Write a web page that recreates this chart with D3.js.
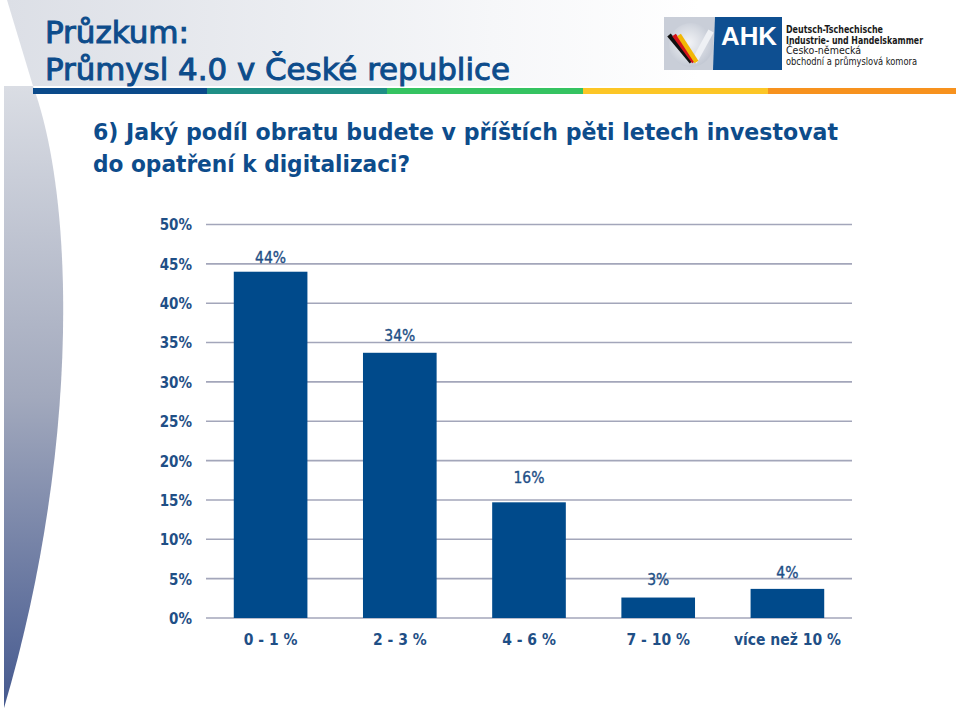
<!DOCTYPE html>
<html><head><meta charset="utf-8">
<script src="https://cdn.jsdelivr.net/npm/d3@7"></script>
<style>html,body{margin:0;padding:0;background:#fff;}svg{display:block;}</style>
</head><body>
<script>
const categories = ["0 - 1 %", "2 - 3 %", "4 - 6 %", "7 - 10 %", "více než 10 %"];
const barValues = [44, 33.7, 14.7, 2.6, 3.7];
const labelValues = [44, 34, 16, 3, 4];
const yTicks = [0, 5, 10, 15, 20, 25, 30, 35, 40, 45, 50];
const titleLines = ["Průzkum:", "Průmysl 4.0 v České republice"];
const questionLines = ["6) Jaký podíl obratu budete v příštích pěti letech investovat", "do opatření k digitalizaci?"];
const logoLines = ["Deutsch-Tschechische", "Industrie- und Handelskammer", "Česko-německá", "obchodní a průmyslová komora"];
const stripeColors = ["#0b4a8a", "#1f8f86", "#35c361", "#fcc626", "#f7921e"];
const stripeStops = [33, 207, 387, 583, 768, 956];

const W = 960, H = 711;
const svg = d3.select("body").append("svg").attr("width", W).attr("height", H);
const defs = svg.append("defs");

const hg = defs.append("linearGradient").attr("id", "hg").attr("x1", "0").attr("x2", "1").attr("y1", "0").attr("y2", "0");
hg.append("stop").attr("offset", "0").attr("stop-color", "#dcdfe6");
hg.append("stop").attr("offset", "0.7").attr("stop-color", "#f6f7f9");
hg.append("stop").attr("offset", "1").attr("stop-color", "#ffffff");
const lg = defs.append("linearGradient").attr("id", "lg").attr("x1", "0").attr("x2", "0").attr("y1", "0").attr("y2", "1");
lg.append("stop").attr("offset", "0").attr("stop-color", "#dadde4");
lg.append("stop").attr("offset", "0.5").attr("stop-color", "#a2a9bd");
lg.append("stop").attr("offset", "1").attr("stop-color", "#45598f");
const cg = defs.append("radialGradient").attr("id", "cg").attr("cx", "0.45").attr("cy", "0.45").attr("r", "0.6");
cg.append("stop").attr("offset", "0").attr("stop-color", "#f2f3f6");
cg.append("stop").attr("offset", "0.6").attr("stop-color", "#d5d9e1");
cg.append("stop").attr("offset", "1").attr("stop-color", "#bfc5d1");

// header background
svg.append("path").attr("d", "M7,0 L700,0 L700,86 L33,86 Z").attr("fill", "url(#hg)");
// left curved decoration
svg.append("path").attr("d", "M4,86 L33,86 C75,200 80,450 4,708 Z").attr("fill", "url(#lg)");

// stripes
stripeColors.forEach((c, i) => {
  svg.append("rect").attr("x", stripeStops[i]).attr("y", 88).attr("width", stripeStops[i + 1] - stripeStops[i]).attr("height", 6).attr("fill", c);
});

const blue = "#0d4c8b";
const FONT = "'DejaVu Sans Condensed', 'DejaVu Sans', sans-serif";
// title
const tt = svg.append("g").attr("font-family", FONT).attr("fill", blue).attr("font-size", 30)
  .attr("stroke", blue).attr("stroke-width", 0.9);
tt.append("text").attr("x", 45).attr("y", 43).text(titleLines[0]).attr("textLength", 144).attr("lengthAdjust", "spacingAndGlyphs");
tt.append("text").attr("x", 45).attr("y", 80).text(titleLines[1]).attr("textLength", 465).attr("lengthAdjust", "spacingAndGlyphs");

// question
const qq = svg.append("g").attr("font-family", FONT).attr("fill", blue).attr("font-size", 23).attr("font-weight", "bold");
qq.append("text").attr("x", 93).attr("y", 140).text(questionLines[0]).attr("textLength", 745).attr("lengthAdjust", "spacingAndGlyphs");
qq.append("text").attr("x", 93).attr("y", 172).text(questionLines[1]).attr("textLength", 317).attr("lengthAdjust", "spacingAndGlyphs");

// logo
const logo = svg.append("g");
logo.append("rect").attr("x", 664).attr("y", 17).attr("width", 54).attr("height", 53).attr("fill", "#c9ced8");
logo.append("circle").attr("cx", 691).attr("cy", 45).attr("r", 22).attr("fill", "url(#cg)");
logo.append("path").attr("d", "M715,17 L782,17 L782,70 L713,70 Z").attr("fill", "#0e4f91");
logo.append("text").attr("x", 721).attr("y", 45).attr("fill", "#fff").attr("font-family", "'Liberation Sans', Arial, sans-serif").attr("font-weight", "bold").attr("font-size", 25).attr("textLength", 56).attr("lengthAdjust", "spacingAndGlyphs").text("AHK");
logo.append("path").attr("d", "M694,62 L711,31").attr("stroke", "#eef0f4").attr("stroke-width", 6).attr("fill", "none");
[["#111", -5], ["#d4141c", 0], ["#f2b705", 5]].forEach(([c, o]) => {
  logo.append("path").attr("d", `M${674 + o},${35} L${694 + o * 0.5},${62}`).attr("stroke", c).attr("stroke-width", 4.5).attr("fill", "none");
});
const logoWidths = [97, 137, 75, 131];
const lt = svg.append("g").attr("font-family", FONT).attr("font-size", 10.5).attr("fill", "#1a1a1a");
logoLines.forEach((s, i) => {
  lt.append("text").attr("x", 786).attr("y", 33 + i * 10.5).attr("font-weight", i < 2 ? "bold" : "normal")
    .attr("textLength", logoWidths[i]).attr("lengthAdjust", "spacingAndGlyphs").text(s);
});

// chart
const margin = { left: 206, right: 852, top: 224.5, bottom: 618 };
const x = d3.scaleBand().domain(categories).range([margin.left, margin.right]).paddingInner(0.43).paddingOuter(0.215);
const y = d3.scaleLinear().domain([0, 50]).range([margin.bottom, margin.top]);

const grid = svg.append("g");
grid.selectAll("line").data(yTicks).join("line")
  .attr("x1", margin.left).attr("x2", margin.right)
  .attr("y1", d => y(d)).attr("y2", d => y(d))
  .attr("stroke", "#a3a6ba").attr("stroke-width", 1.6);

const yAxis = d3.axisLeft(y).tickValues(yTicks).tickFormat(d => d + "%").tickSize(0).tickPadding(14);
const ya = svg.append("g").attr("transform", `translate(${margin.left},0)`).call(yAxis);
ya.select(".domain").remove();
ya.selectAll("text").attr("font-family", FONT).attr("font-size", 15).attr("fill", "#1f4f86").attr("font-weight", "bold").attr("dy", "0.36em");

svg.append("g").selectAll("rect").data(barValues).join("rect")
  .attr("x", (d, i) => x(categories[i])).attr("width", x.bandwidth())
  .attr("y", d => y(d)).attr("height", d => y(0) - y(d))
  .attr("fill", "#004a8b");

svg.append("g").selectAll("text").data(labelValues).join("text")
  .attr("x", (d, i) => x(categories[i]) + x.bandwidth() / 2)
  .attr("y", d => y(d) - 9)
  .attr("text-anchor", "middle")
  .attr("font-family", FONT).attr("font-size", 15.5).attr("fill", "#1f4f86")
  .attr("stroke", "#1f4f86").attr("stroke-width", 0.35)
  .text(d => d + "%");

const xAxis = d3.axisBottom(x).tickSize(0).tickPadding(16);
const xa = svg.append("g").attr("transform", `translate(0,${margin.bottom})`).call(xAxis);
xa.select(".domain").remove();
xa.selectAll("text").attr("font-family", FONT).attr("font-size", 15.5).attr("fill", "#1f4f86").attr("font-weight", "bold");
</script>
</body></html>
